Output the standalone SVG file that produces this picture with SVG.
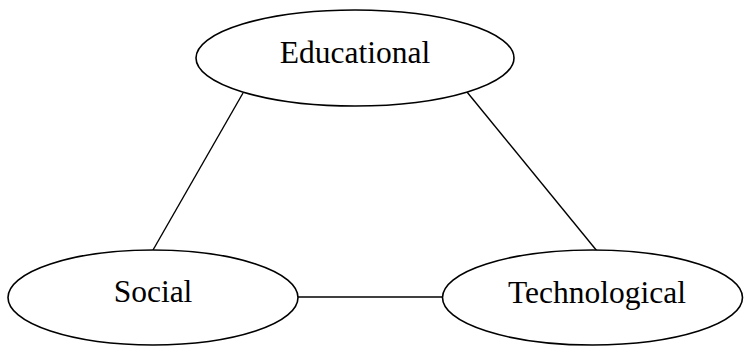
<svg xmlns="http://www.w3.org/2000/svg" width="744" height="346" viewBox="0 0 744 346">
<style>
.n{fill:#fff;stroke:#000;stroke-width:1.6}
.t{font-family:"Liberation Serif","Times New Roman",serif;font-size:31.5px;fill:#000;text-anchor:middle}
.c{stroke:#000;stroke-width:1.4;fill:none}
</style>
<rect width="744" height="346" fill="#fff"/>
<g id="connectors">
<line class="c" x1="243" y1="93" x2="153" y2="250"/>
<line class="c" x1="467" y1="92" x2="597" y2="251"/>
<line class="c" x1="298" y1="297" x2="442" y2="297"/>
</g>
<g id="educational">
<ellipse class="n" cx="355" cy="58" rx="159" ry="48"/>
<text class="t" x="355" y="63">Educational</text>
</g>
<g id="social">
<ellipse class="n" cx="153" cy="297.5" rx="145" ry="47.5"/>
<text class="t" x="153" y="302">Social</text>
</g>
<g id="technological">
<ellipse class="n" cx="592.5" cy="297.5" rx="150" ry="47.5"/>
<text class="t" x="597" y="303">Technological</text>
</g>
</svg>
